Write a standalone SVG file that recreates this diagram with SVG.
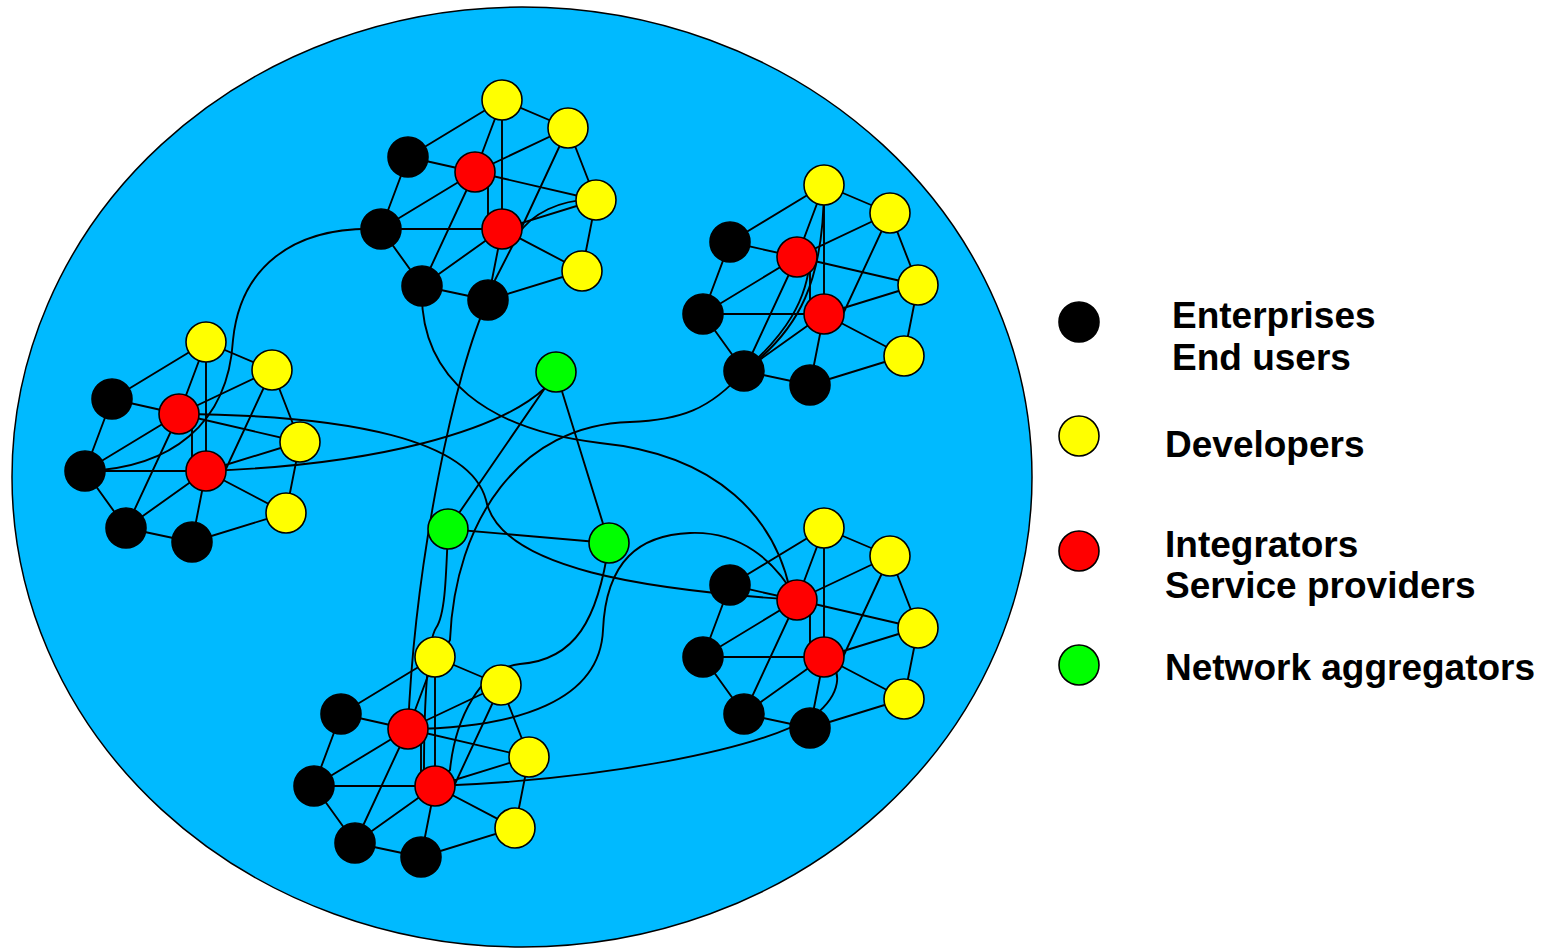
<svg xmlns="http://www.w3.org/2000/svg" xmlns:xlink="http://www.w3.org/1999/xlink" width="1548" height="948" viewBox="0 0 1548 948">
<style>
.e{fill:none;stroke:#000;stroke-width:1.9;stroke-linecap:round;stroke-linejoin:round}
.n{stroke:#000;stroke-width:1.6}
.k{fill:#000}
.y{fill:#FFFF00}
.r{fill:#FF0000}
.g{fill:#00FF00}
.t{font-family:"Liberation Sans",Arial,sans-serif;font-weight:bold;font-size:37px;fill:#000}
</style>
<defs>
<path id="tpl" class="e" d="M0,-129 L66,-101 L94,-29 L80,42 L-14,71 L-80,57 L-121,0 L-94,-72 Z
M-27,-57 L-94,-72 M-27,-57 L-121,0 M-27,-57 L-80,57 M-27,-57 L0,-129 M-27,-57 L66,-101 M-27,-57 L94,-29
M0,0 L0,-129 M0,0 L94,-29 M0,0 L80,42 M0,0 L-121,0 M0,0 L-80,57 M0,0 L-14,71
M66,-101 L19,0 M-14,-42 L-14,-14"/>
</defs>
<rect width="1548" height="948" fill="#fff"/>
<ellipse id="cloud" cx="522" cy="477" rx="510" ry="470" fill="#00BAFF" stroke="#000" stroke-width="1.5"/>
<g id="connectors">
<use xlink:href="#tpl" href="#tpl" transform="translate(502,229)"/>
<use xlink:href="#tpl" href="#tpl" transform="translate(206,471)"/>
<use xlink:href="#tpl" href="#tpl" transform="translate(824,314)"/>
<use xlink:href="#tpl" href="#tpl" transform="translate(824,657)"/>
<use xlink:href="#tpl" href="#tpl" transform="translate(435,786)"/>
<path class="e" d="M381,229 C290,225 240,270 233,340 C228,425 170,468 86,471"/>
<path class="e" d="M179,414 C350,415 470,440 486,500 C500,570 650,590 797,600"/>
<path class="e" d="M206,471 C380,465 500,430 545,388 L556,372"/>
<path class="e" d="M556,372 L448,529 M556,372 L609,543 M448,529 L609,543"/>
<path class="e" d="M448,529 C446,580 445,615 436,628 C428,640 424,700 424,770"/>
<path class="e" d="M596,200 C560,198 530,215 518,235 L495,280 L488,300 C455,370 415,560 408,729"/>
<path class="e" d="M422,286 C418,380 490,430 600,443 C720,455 775,520 790,590"/>
<path class="e" d="M744,371 C710,410 680,420 630,422 C520,425 455,520 450,640 L440,657"/>
<path class="e" d="M744,371 C800,330 824,280 824,185"/>
<path class="e" d="M744,371 C785,335 808,300 810,257"/>
<path class="e" d="M408,729 C520,728 600,700 603,630 C606,560 640,535 690,533 C740,531 775,560 797,600"/>
<path class="e" d="M609,543 C598,620 575,660 520,664 C480,668 455,720 450,770 L435,786"/>
<path class="e" d="M435,786 C600,780 760,750 815,715 C840,695 845,670 824,657"/>
</g>
<g id="cluster-top">
<g id="t-y1"><circle class="n y" cx="502" cy="100" r="20"/></g>
<g id="t-y2"><circle class="n y" cx="568" cy="128" r="20"/></g>
<g id="t-y3"><circle class="n y" cx="596" cy="200" r="20"/></g>
<g id="t-y4"><circle class="n y" cx="582" cy="271" r="20"/></g>
<g id="t-b1"><circle class="n k" cx="408" cy="157" r="20"/></g>
<g id="t-b2"><circle class="n k" cx="381" cy="229" r="20"/></g>
<g id="t-b3"><circle class="n k" cx="422" cy="286" r="20"/></g>
<g id="t-b4"><circle class="n k" cx="488" cy="300" r="20"/></g>
<g id="t-r1"><circle class="n r" cx="475" cy="172" r="20"/></g>
<g id="t-r2"><circle class="n r" cx="502" cy="229" r="20"/></g>
</g>
<g id="cluster-left">
<g id="l-y1"><circle class="n y" cx="206" cy="342" r="20"/></g>
<g id="l-y2"><circle class="n y" cx="272" cy="370" r="20"/></g>
<g id="l-y3"><circle class="n y" cx="300" cy="442" r="20"/></g>
<g id="l-y4"><circle class="n y" cx="286" cy="513" r="20"/></g>
<g id="l-b1"><circle class="n k" cx="112" cy="399" r="20"/></g>
<g id="l-b2"><circle class="n k" cx="85" cy="471" r="20"/></g>
<g id="l-b3"><circle class="n k" cx="126" cy="528" r="20"/></g>
<g id="l-b4"><circle class="n k" cx="192" cy="542" r="20"/></g>
<g id="l-r1"><circle class="n r" cx="179" cy="414" r="20"/></g>
<g id="l-r2"><circle class="n r" cx="206" cy="471" r="20"/></g>
</g>
<g id="cluster-topright">
<g id="tr-y1"><circle class="n y" cx="824" cy="185" r="20"/></g>
<g id="tr-y2"><circle class="n y" cx="890" cy="213" r="20"/></g>
<g id="tr-y3"><circle class="n y" cx="918" cy="285" r="20"/></g>
<g id="tr-y4"><circle class="n y" cx="904" cy="356" r="20"/></g>
<g id="tr-b1"><circle class="n k" cx="730" cy="242" r="20"/></g>
<g id="tr-b2"><circle class="n k" cx="703" cy="314" r="20"/></g>
<g id="tr-b3"><circle class="n k" cx="744" cy="371" r="20"/></g>
<g id="tr-b4"><circle class="n k" cx="810" cy="385" r="20"/></g>
<g id="tr-r1"><circle class="n r" cx="797" cy="257" r="20"/></g>
<g id="tr-r2"><circle class="n r" cx="824" cy="314" r="20"/></g>
</g>
<g id="cluster-bottomright">
<g id="br-y1"><circle class="n y" cx="824" cy="528" r="20"/></g>
<g id="br-y2"><circle class="n y" cx="890" cy="556" r="20"/></g>
<g id="br-y3"><circle class="n y" cx="918" cy="628" r="20"/></g>
<g id="br-y4"><circle class="n y" cx="904" cy="699" r="20"/></g>
<g id="br-b1"><circle class="n k" cx="730" cy="585" r="20"/></g>
<g id="br-b2"><circle class="n k" cx="703" cy="657" r="20"/></g>
<g id="br-b3"><circle class="n k" cx="744" cy="714" r="20"/></g>
<g id="br-b4"><circle class="n k" cx="810" cy="728" r="20"/></g>
<g id="br-r1"><circle class="n r" cx="797" cy="600" r="20"/></g>
<g id="br-r2"><circle class="n r" cx="824" cy="657" r="20"/></g>
</g>
<g id="cluster-bottom">
<g id="b-y1"><circle class="n y" cx="435" cy="657" r="20"/></g>
<g id="b-y2"><circle class="n y" cx="501" cy="685" r="20"/></g>
<g id="b-y3"><circle class="n y" cx="529" cy="757" r="20"/></g>
<g id="b-y4"><circle class="n y" cx="515" cy="828" r="20"/></g>
<g id="b-b1"><circle class="n k" cx="341" cy="714" r="20"/></g>
<g id="b-b2"><circle class="n k" cx="314" cy="786" r="20"/></g>
<g id="b-b3"><circle class="n k" cx="355" cy="843" r="20"/></g>
<g id="b-b4"><circle class="n k" cx="421" cy="857" r="20"/></g>
<g id="b-r1"><circle class="n r" cx="408" cy="729" r="20"/></g>
<g id="b-r2"><circle class="n r" cx="435" cy="786" r="20"/></g>
</g>
<g id="aggregators">
<g id="g-top"><circle class="n g" cx="556" cy="372" r="20"/></g>
<g id="g-left"><circle class="n g" cx="448" cy="529" r="20"/></g>
<g id="g-right"><circle class="n g" cx="609" cy="543" r="20"/></g>
</g>
<g id="legend">
<g id="leg-black"><circle class="n k" cx="1079" cy="322" r="20"/><text class="t" x="1172" y="328">Enterprises</text><text class="t" x="1172" y="370">End users</text></g>
<g id="leg-yellow"><circle class="n y" cx="1079" cy="436" r="20"/><text class="t" x="1165" y="457">Developers</text></g>
<g id="leg-red"><circle class="n r" cx="1079" cy="551" r="20"/><text class="t" x="1165" y="557">Integrators</text><text class="t" x="1165" y="598">Service providers</text></g>
<g id="leg-green"><circle class="n g" cx="1079" cy="665" r="20"/><text class="t" x="1165" y="680">Network aggregators</text></g>
</g>
</svg>
